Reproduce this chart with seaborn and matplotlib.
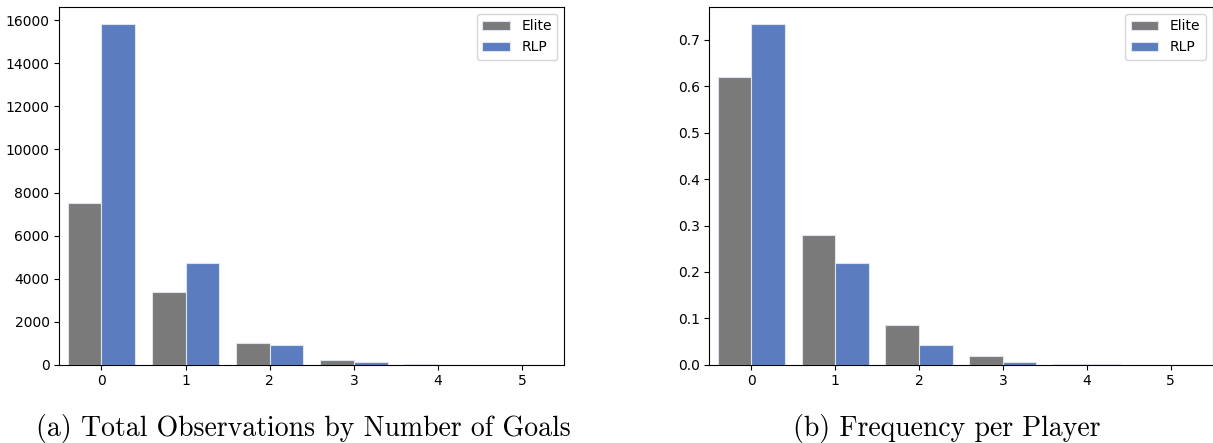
import pandas as pd
import seaborn as sns
from matplotlib import pyplot as plt

goals = [0, 1, 2, 3, 4, 5]
groups = ['Elite', 'RLP']

elite_counts = [7510, 3370, 1005, 215, 35, 4]
rlp_counts = [15830, 4715, 915, 115, 6, 1]

elite_freq = [0.621, 0.279, 0.0846, 0.0187, 0.0022, 0.0003]
rlp_freq = [0.7343, 0.2188, 0.0423, 0.0058, 0.0004, 0.0001]

colors = {'Elite': '#7a7a7a', 'RLP': '#5b7dc0'}


def make_df(elite, rlp):
    return pd.DataFrame({
        'goals': goals * 2,
        'group': ['Elite'] * len(goals) + ['RLP'] * len(goals),
        'value': list(elite) + list(rlp),
    })


fig = plt.figure(figsize=(12.13, 4.43), dpi=100)
ax1 = fig.add_axes([0.0489, 0.1768, 0.4163, 0.8074])
ax2 = fig.add_axes([0.5848, 0.1768, 0.4148, 0.8074])

for ax, df in [(ax1, make_df(elite_counts, rlp_counts)),
               (ax2, make_df(elite_freq, rlp_freq))]:
    sns.barplot(data=df, x='goals', y='value', hue='group', hue_order=groups,
                palette=colors, saturation=1, ax=ax,
                edgecolor='#dde4f0', linewidth=0.8)
    ax.set_xlabel('')
    ax.set_ylabel('')
    ax.legend(loc='upper right', title=None)

fig.text(303 / 1213, 0.0158, '(a) Total Observations by Number of Goals',
         ha='center', va='baseline', fontfamily='cmr10', fontsize=20)
fig.text(947 / 1213, 0.0158, '(b) Frequency per Player',
         ha='center', va='baseline', fontfamily='cmr10', fontsize=20)

fig.savefig('out.png', dpi=100)
